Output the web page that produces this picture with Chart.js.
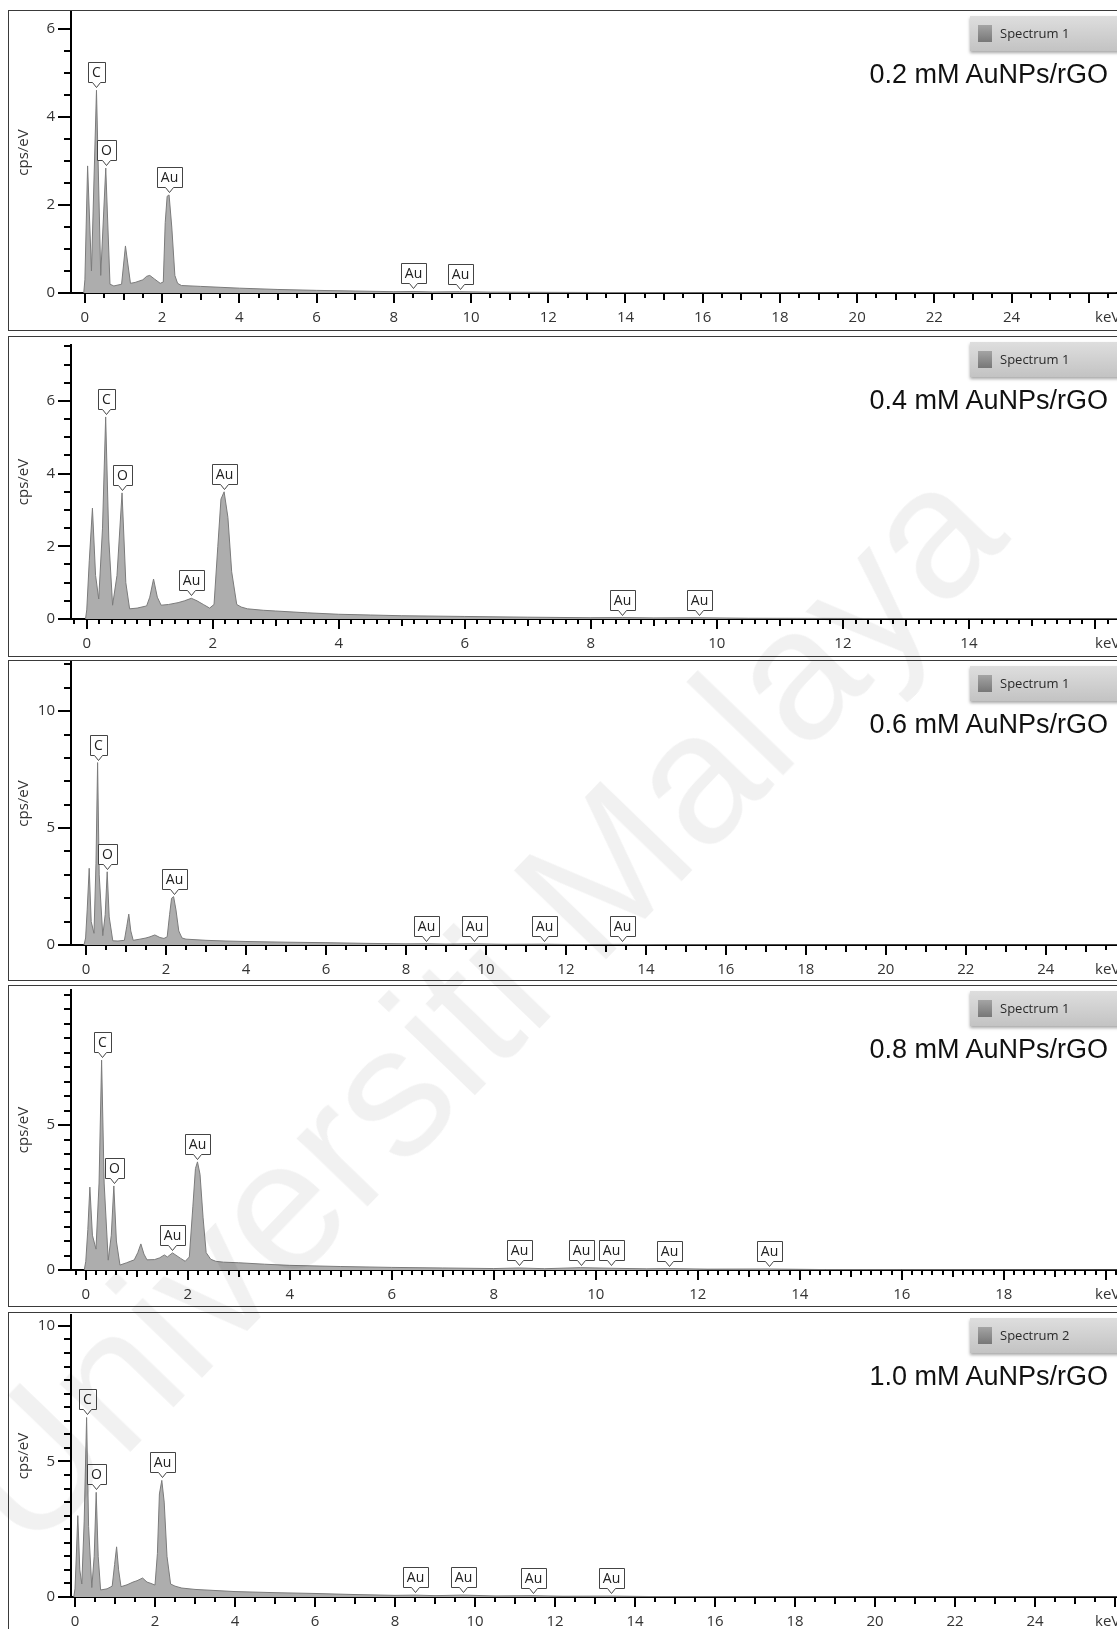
<!DOCTYPE html>
<html>
<head>
<meta charset="utf-8" />
<title>EDX spectra AuNPs/rGO</title>
<script src="https://cdn.jsdelivr.net/npm/chart.js@4.4.1/dist/chart.umd.min.js"></script>
<style>
  html, body { margin: 0; padding: 0; overflow: hidden; background: #fff; }
  body { width: 1117px; height: 1629px; position: relative; font-family: "Open Sans", sans-serif; }
  .panel { position: absolute; left: 8px; width: 1130px; border: 1px solid #3a3a3a; box-sizing: border-box; background: #fff; overflow: hidden; }
  .plot { position: absolute; left: 0; top: 0; width: 1108px; }
  .spec { position: absolute; left: 961px; top: 5px; width: 200px; height: 35px;
          background: linear-gradient(#dedede, #c3c3c3); box-shadow: 0 2px 3px rgba(0,0,0,.35);
          font-size: 13px; color: #2a2a2a; }
  .spec i { position: absolute; left: 8px; top: 9px; width: 14px; height: 17px; background: linear-gradient(#a4a4a4, #777); }
  .spec span { position: absolute; left: 30px; top: 8px; line-height: 18px; }
  .ttl { position: absolute; left: 500px; width: 599px; top: 50px; text-align: right;
         font-family: "Liberation Sans", Arial, sans-serif; font-size: 27px; line-height: 27px; color: #111; }
  .wm { position: absolute; left: 474px; top: 1004px; transform: translate(-50%, -50%) rotate(-46deg);
        font-family: "Liberation Sans", Arial, sans-serif; font-size: 186px; line-height: 1;
        color: rgba(0,0,0,0.055); white-space: nowrap; pointer-events: none; }
</style>
</head>
<body>
<div class="wm">Universiti Malaya</div>
<script>
// ---- data (keV, cps/eV) ----
var keV_02 = [-0.03, 0.0, 0.07, 0.17, 0.30, 0.41, 0.54, 0.65, 0.75, 0.95, 1.05, 1.18, 1.3, 1.5, 1.6, 1.68, 1.8, 1.95, 2.03, 2.08, 2.13, 2.18, 2.25, 2.33, 2.4, 2.5, 3.0, 3.5, 4.0, 5.0, 6.0, 7.0, 8.0, 8.5, 9.0, 9.7, 10.5, 12, 14, 16, 20, 26.7];
var cps_02 = [0, 0.3, 2.89, 0.5, 4.61, 0.4, 2.84, 0.2, 0.16, 0.2, 1.07, 0.22, 0.24, 0.3, 0.38, 0.4, 0.32, 0.22, 0.25, 1.6, 2.2, 2.23, 1.5, 0.4, 0.22, 0.17, 0.15, 0.13, 0.11, 0.08, 0.06, 0.045, 0.03, 0.035, 0.025, 0.03, 0.02, 0.015, 0.01, 0.005, 0, 0];

var keV_04 = [-0.02, 0.0, 0.04, 0.09, 0.14, 0.19, 0.25, 0.30, 0.35, 0.41, 0.48, 0.56, 0.62, 0.68, 0.8, 0.95, 1.0, 1.06, 1.12, 1.18, 1.3, 1.45, 1.55, 1.66, 1.75, 1.85, 1.95, 2.02, 2.08, 2.13, 2.18, 2.24, 2.3, 2.38, 2.45, 2.55, 2.8, 3.0, 3.5, 4.0, 4.5, 5.0, 6.0, 7.0, 8.0, 8.5, 9.0, 9.7, 10.5, 12, 14, 16.4];
var cps_04 = [0, 0.25, 1.6, 3.05, 1.2, 0.55, 2.5, 5.56, 2.2, 0.38, 1.2, 3.47, 1.0, 0.28, 0.3, 0.36, 0.6, 1.1, 0.6, 0.38, 0.4, 0.45, 0.5, 0.57, 0.5, 0.4, 0.3, 0.4, 2.0, 3.3, 3.5, 2.8, 1.3, 0.4, 0.33, 0.28, 0.24, 0.22, 0.17, 0.13, 0.11, 0.09, 0.07, 0.05, 0.035, 0.04, 0.03, 0.035, 0.02, 0.015, 0.01, 0.005];

var keV_06 = [-0.05, -0.01, 0.03, 0.08, 0.13, 0.2, 0.25, 0.29, 0.33, 0.42, 0.48, 0.53, 0.58, 0.67, 0.8, 0.96, 1.02, 1.07, 1.12, 1.18, 1.35, 1.5, 1.6, 1.72, 1.85, 1.95, 2.03, 2.09, 2.14, 2.19, 2.25, 2.32, 2.4, 2.5, 3.0, 3.5, 4.0, 5.0, 6.0, 7.0, 8.0, 8.5, 9.0, 9.7, 10.5, 11.4, 12.2, 13.4, 14.5, 17, 20, 25.8];
var cps_06 = [0, 0.3, 1.5, 3.28, 1.0, 0.5, 3.5, 7.8, 3.0, 0.4, 1.3, 3.13, 1.2, 0.18, 0.17, 0.2, 0.8, 1.32, 0.6, 0.2, 0.25, 0.3, 0.35, 0.43, 0.32, 0.28, 0.35, 1.3, 2.0, 2.07, 1.5, 0.6, 0.3, 0.25, 0.2, 0.17, 0.15, 0.12, 0.1, 0.07, 0.05, 0.055, 0.04, 0.05, 0.03, 0.035, 0.02, 0.025, 0.01, 0.005, 0, 0];

var keV_08 = [-0.03, 0.0, 0.04, 0.08, 0.13, 0.2, 0.26, 0.31, 0.36, 0.44, 0.5, 0.55, 0.6, 0.67, 0.8, 0.95, 1.02, 1.08, 1.14, 1.2, 1.35, 1.45, 1.54, 1.6, 1.7, 1.86, 1.95, 2.03, 2.1, 2.15, 2.19, 2.24, 2.3, 2.36, 2.45, 2.55, 2.7, 3.0, 3.5, 4.0, 5.0, 6.0, 7.0, 8.0, 8.5, 9.0, 9.7, 10.3, 11.0, 11.4, 12.2, 13.4, 14.5, 16, 20.3];
var cps_08 = [0, 0.3, 1.4, 2.86, 1.2, 0.72, 3.0, 7.24, 3.0, 0.34, 1.2, 2.9, 1.0, 0.17, 0.25, 0.35, 0.6, 0.9, 0.55, 0.35, 0.36, 0.42, 0.52, 0.45, 0.59, 0.4, 0.3, 0.45, 2.2, 3.5, 3.73, 3.3, 1.8, 0.6, 0.37, 0.3, 0.27, 0.25, 0.2, 0.16, 0.12, 0.09, 0.07, 0.05, 0.07, 0.045, 0.08, 0.06, 0.04, 0.05, 0.03, 0.035, 0.015, 0.01, 0];

var keV_10 = [-0.03, 0.0, 0.03, 0.07, 0.12, 0.17, 0.23, 0.29, 0.34, 0.42, 0.48, 0.53, 0.58, 0.64, 0.8, 0.93, 0.99, 1.04, 1.09, 1.15, 1.3, 1.45, 1.55, 1.69, 1.8, 1.9, 2.0, 2.06, 2.11, 2.17, 2.23, 2.3, 2.39, 2.5, 2.67, 3.0, 3.5, 4.0, 5.0, 6.0, 7.0, 8.0, 8.5, 9.0, 9.7, 10.5, 11.4, 12.2, 13.4, 14.5, 17, 20, 26.1];
var cps_10 = [0, 0.3, 1.4, 3.0, 1.0, 0.48, 2.8, 6.62, 2.6, 0.35, 1.5, 3.86, 1.5, 0.26, 0.3, 0.4, 1.2, 1.85, 1.0, 0.38, 0.45, 0.55, 0.6, 0.7, 0.55, 0.5, 0.44, 1.6, 3.8, 4.3, 3.5, 1.5, 0.48, 0.4, 0.33, 0.28, 0.24, 0.2, 0.16, 0.13, 0.09, 0.06, 0.07, 0.05, 0.07, 0.04, 0.05, 0.03, 0.035, 0.015, 0.005, 0, 0];

// ---- peak tags: element, line energy, height of the tag tip ----
var tagName_02 = ['C', 'O', 'Au', 'Au', 'Au'];
var tagKeV_02 = [0.30, 0.54, 2.17, 8.5, 9.71];
var tagCps_02 = [4.61, 2.84, 2.23, 0.035, 0.03];

var tagName_04 = ['C', 'O', 'Au', 'Au', 'Au', 'Au'];
var tagKeV_04 = [0.30, 0.56, 1.66, 2.18, 8.5, 9.71];
var tagCps_04 = [5.56, 3.47, 0.57, 3.5, 0.04, 0.035];

var tagName_06 = ['C', 'O', 'Au', 'Au', 'Au', 'Au', 'Au'];
var tagKeV_06 = [0.29, 0.53, 2.19, 8.5, 9.71, 11.44, 13.4];
var tagCps_06 = [7.8, 3.13, 2.07, 0.055, 0.05, 0.035, 0.025];

var tagName_08 = ['C', 'O', 'Au', 'Au', 'Au', 'Au', 'Au', 'Au', 'Au'];
var tagKeV_08 = [0.31, 0.55, 1.7, 2.19, 8.5, 9.71, 10.3, 11.44, 13.4];
var tagCps_08 = [7.24, 2.9, 0.59, 3.73, 0.07, 0.08, 0.06, 0.05, 0.035];

var tagName_10 = ['C', 'O', 'Au', 'Au', 'Au', 'Au', 'Au'];
var tagKeV_10 = [0.29, 0.53, 2.17, 8.5, 9.71, 11.44, 13.4];
var tagCps_10 = [6.62, 3.86, 4.3, 0.07, 0.07, 0.05, 0.035];

var sampleTitles = ['0.2 mM AuNPs/rGO', '0.4 mM AuNPs/rGO', '0.6 mM AuNPs/rGO', '0.8 mM AuNPs/rGO', '1.0 mM AuNPs/rGO'];
var spectrumNames = ['Spectrum 1', 'Spectrum 1', 'Spectrum 1', 'Spectrum 1', 'Spectrum 2'];

// ---- panel layout / axis ranges ----
var panels = [
    { top: 10,   h: 321, padTop: 1, xH: 37, xMin: -0.36,  xMax: 26.73, xMinor: 0.5, yMax: 6.39, yStep: 2, yMinor: 0.5,
      keV: keV_02, cps: cps_02, tags: [tagName_02, tagKeV_02, tagCps_02] },
    { top: 336,  h: 321, padTop: 8, xH: 37, xMin: -0.25,  xMax: 16.35, xMinor: 0.2, yMax: 7.54, yStep: 2, yMinor: 0.5,
      keV: keV_04, cps: cps_04, tags: [tagName_04, tagKeV_04, tagCps_04] },
    { top: 660,  h: 321, padTop: 1, xH: 35, xMin: -0.375, xMax: 25.78, xMinor: 0.5, yMax: 12.1, yStep: 5, yMinor: 1,
      keV: keV_06, cps: cps_06, tags: [tagName_06, tagKeV_06, tagCps_06] },
    { top: 985,  h: 322, padTop: 4, xH: 36, xMin: -0.29,  xMax: 20.22, xMinor: 0.2, yMax: 9.66, yStep: 5, yMinor: 0.5,
      keV: keV_08, cps: cps_08, tags: [tagName_08, tagKeV_08, tagCps_08] },
    { top: 1312, h: 340, padTop: 2, xH: 54, xMin: -0.1,   xMax: 26.05, xMinor: 0.5, yMax: 10.4, yStep: 5, yMinor: 0.5,
      keV: keV_10, cps: cps_10, tags: [tagName_10, tagKeV_10, tagCps_10] }
];

function near(v, step) { return Math.abs(v / step - Math.round(v / step)) < 1e-6; }

// tick marks of different lengths + the keV unit label
var axisMarks = {
    id: 'axisMarks',
    afterDraw: function (chart, args, o) {
        var ctx = chart.ctx, a = chart.chartArea, x = chart.scales.x, y = chart.scales.y;
        ctx.save();
        ctx.strokeStyle = '#000';
        ctx.lineWidth = 2;
        ctx.beginPath();
        for (var i = Math.ceil(x.min / o.xMinor - 1e-9); i * o.xMinor <= x.max; i++) {
            var v = i * o.xMinor;
            var px = Math.round(x.getPixelForValue(v));
            var len = near(v, 2) ? 10 : (near(v, 1) ? 7 : 5);
            ctx.moveTo(px, a.bottom);
            ctx.lineTo(px, a.bottom + len);
        }
        for (var j = 0; j * o.yMinor <= y.max; j++) {
            var w = j * o.yMinor;
            var py = Math.round(y.getPixelForValue(w));
            var l2 = near(w, o.yStep) ? 13 : 7;
            ctx.moveTo(a.left, py);
            ctx.lineTo(a.left - l2, py);
        }
        ctx.stroke();
        ctx.fillStyle = '#333';
        ctx.font = '15px "Open Sans"';
        ctx.textBaseline = 'middle';
        ctx.textAlign = 'left';
        ctx.fillText('keV', a.right - 22, a.bottom + 25);
        ctx.restore();
    }
};

// element tags with a pointer on the peak
var peakTags = {
    id: 'peakTags',
    afterDatasetsDraw: function (chart, args, o) {
        var ctx = chart.ctx, x = chart.scales.x, y = chart.scales.y;
        ctx.save();
        ctx.font = '14px "Open Sans"';
        ctx.textAlign = 'center';
        ctx.textBaseline = 'middle';
        o.names.forEach(function (n, i) {
            var px = Math.round(x.getPixelForValue(o.kev[i])) + 0.5;
            var tip = Math.round(y.getPixelForValue(o.top[i])) - 2.5;
            var w = Math.round(ctx.measureText(n).width) + 8, h = 20, b = tip - 5;
            var l = Math.round(px - w / 2) + 0.5;
            ctx.beginPath();
            ctx.moveTo(l, b - h);
            ctx.lineTo(l + w, b - h);
            ctx.lineTo(l + w, b);
            ctx.lineTo(px + 4, b);
            ctx.lineTo(px, tip);
            ctx.lineTo(px - 4, b);
            ctx.lineTo(l, b);
            ctx.closePath();
            ctx.fillStyle = '#fff';
            ctx.fill();
            ctx.strokeStyle = '#444';
            ctx.lineWidth = 1;
            ctx.stroke();
            ctx.fillStyle = '#222';
            ctx.fillText(n, px, b - h / 2 + 1);
        });
        ctx.restore();
    }
};

panels.forEach(function (p, k) {
    var div = document.createElement('div');
    div.className = 'panel';
    div.style.top = p.top + 'px';
    div.style.height = p.h + 'px';
    var plot = document.createElement('div');
    plot.className = 'plot';
    plot.style.height = (p.h - 2) + 'px';
    var cv = document.createElement('canvas');
    plot.appendChild(cv);
    div.appendChild(plot);
    var spec = document.createElement('div');
    spec.className = 'spec';
    spec.innerHTML = '<i></i><span>' + spectrumNames[k] + '</span>';
    div.appendChild(spec);
    var ttl = document.createElement('div');
    ttl.className = 'ttl';
    ttl.textContent = sampleTitles[k];
    div.appendChild(ttl);
    document.body.insertBefore(div, document.querySelector('.wm'));

    var pts = p.keV.map(function (e, i) { return { x: e, y: p.cps[i] }; });

    new Chart(cv, {
        type: 'line',
        data: {
            datasets: [{
                data: pts,
                borderColor: '#7b7b7b',
                backgroundColor: '#adadad',
                borderWidth: 1,
                fill: 'origin',
                pointRadius: 0,
                tension: 0
            }]
        },
        options: {
            animation: false,
            responsive: true,
            maintainAspectRatio: false,
            layout: { padding: { top: p.padTop, left: 0, right: 0, bottom: 0 } },
            plugins: {
                legend: { display: false },
                tooltip: { enabled: false },
                axisMarks: { xMinor: p.xMinor, yMinor: p.yMinor, yStep: p.yStep },
                peakTags: { names: p.tags[0], kev: p.tags[1], top: p.tags[2] }
            },
            scales: {
                x: {
                    type: 'linear', min: p.xMin, max: p.xMax,
                    border: { display: true, color: '#000', width: 2 },
                    grid: { drawOnChartArea: false, drawTicks: false },
                    ticks: {
                        stepSize: 2, includeBounds: false, autoSkip: false, maxRotation: 0, padding: 16,
                        color: '#333', font: { family: 'Open Sans', size: 15 },
                        callback: function (v) {
                            return (near(v, 2) && v >= 0 && v < p.xMax - 1.2) ? String(Math.round(v)) : '';
                        }
                    },
                    afterFit: function (s) { s.height = p.xH; s.paddingLeft = 0; s.paddingRight = 0; }
                },
                y: {
                    min: 0, max: p.yMax,
                    border: { display: true, color: '#000', width: 2 },
                    grid: { drawOnChartArea: false, drawTicks: false },
                    ticks: {
                        stepSize: p.yStep, includeBounds: false, autoSkip: false, padding: 16,
                        color: '#333', font: { family: 'Open Sans', size: 15 },
                        callback: function (v) { return near(v, p.yStep) ? String(Math.round(v)) : ''; }
                    },
                    title: { display: true, text: 'cps/eV', color: '#333', padding: { top: 6, bottom: 0 },
                             font: { family: 'Open Sans', size: 15 } },
                    afterFit: function (s) { s.width = 62; s.paddingTop = 0; s.paddingBottom = 0; }
                }
            }
        },
        plugins: [axisMarks, peakTags]
    });
});
</script>
</body>
</html>
